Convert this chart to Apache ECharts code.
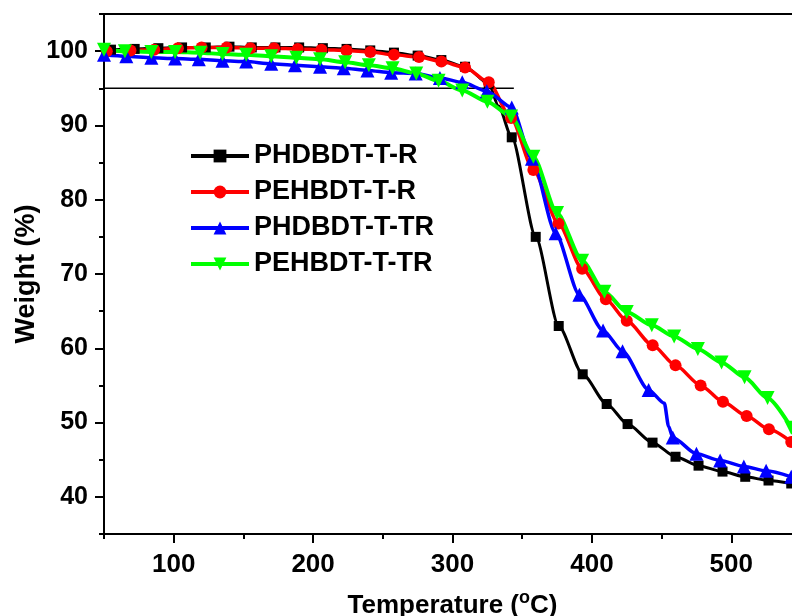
<!DOCTYPE html>
<html>
<head>
<meta charset="utf-8">
<script src="https://cdn.jsdelivr.net/npm/echarts@6/dist/echarts.min.js"></script>
<style>
  html, body { margin: 0; padding: 0; background: #fff; }
  #tga { width: 792px; height: 616px; }
</style>
</head>
<body>
<div id="tga"></div>
<script>
// TGA curves, temperature (oC) vs weight (%)
// a third value of 0 means: point on the line, no marker
var names = ['PHDBDT-T-R', 'PEHBDT-T-R', 'PHDBDT-T-TR', 'PEHBDT-T-TR'];

var phdbdtR = [
  [55,100.2],[72,100.3],[89,100.4],[106,100.5],[123,100.5],[140,100.6],[156,100.5],
  [173,100.5],[190,100.5],[207,100.4],[224,100.3],[241,100.1],[258,99.8],[275,99.4],
  [292,98.8],[309,97.9],[326,95.6],[333,92.6,0],[342.5,88.4],[359.7,75.0],[376.2,63.0],
  [393.4,56.5],[410.6,52.5],[425.6,49.8],[443.5,47.3],[460,45.4],[476.5,44.2],
  [493.7,43.4],[510,42.7],[526.7,42.2],[543,41.8]
];
var pehbdtR = [
  [52,100.0],[69,100.1],[86,100.2],[103,100.4],[120,100.5],[138,100.5],[155,100.4],
  [172,100.4],[189,100.3],[206,100.2],[224,100.1],[241,99.9],[258,99.5],[276,99.2],
  [292,98.6],[309,97.8],[326,95.8],[342,91.0],[358,84.0],[376,76.8],[393,70.7],
  [410,66.6],[425,63.7],[443.6,60.4],[460,57.7],[478,55.0],[494,52.8],[511,50.9],
  [527,49.1],[543,47.4]
];
var phdbdtTR = [
  [50,99.5],[66,99.3],[84,99.1],[101,99.0],[118,98.9],[135,98.7],[152,98.6],[170,98.3],
  [187,98.1],[205,97.9],[222,97.7],[239,97.4],[256,97.1],[273.6,97.0],[291,96.4],
  [307,95.8],[324.6,94.6],[342.5,92.4],[357,85.5],[374,75.5],[391,67.2],[408,62.4],
  [422,59.6],[440.7,54.4],[452,52.6,0],[455,49.5,0],[458,48.0],[475,45.8],[492,44.9],
  [509,44.1],[525,43.5],[543,42.7]
];
var pehbdtTR = [
  [50,100.2],[65,100.0],[84,99.9],[101,99.9],[119,99.8],[135,99.6],[152,99.5],[170,99.3],
  [188,99.1],[205,98.9],[223,98.5],[240,98.1],[257,97.7],[274,97.0],[290,96.0],
  [307,94.7],[325,93.2],[342,91.2],[358,85.8],[375,78.2],[393,71.8],[409,67.6],
  [425,64.9],[443,63.1],[459,61.6],[476,59.9],[493,58.1],[509.5,56.1],[526,53.3],
  [543,49.3]
];
var line95 = [[50,95],[344,95]];

var tempMajor = [100, 200, 300, 400, 500];
var weightMajor = [40, 50, 60, 70, 80, 90, 100];

function pts(arr) {
  return arr.map(function (d) {
    if (d[2] === 0) return { value: [d[0], d[1]], symbol: 'none' };
    return [d[0], d[1]];
  });
}

var font = 'Liberation Sans, Arial, sans-serif';

var chart = echarts.init(document.getElementById('tga'));

var option = {
  animation: false,
  grid: {
    left: 104, top: 14, width: 697, height: 520,
    outerBoundsMode: 'none', containLabel: false,
    show: true, borderColor: '#000', borderWidth: 2
  },
  legend: {
    data: names,
    orient: 'vertical',
    left: 189, top: 141, padding: 0,
    itemWidth: 58, itemHeight: 16, itemGap: 6,
    lineStyle: { width: 4 },
    textStyle: { fontSize: 27, fontWeight: 'bold', fontFamily: font, color: '#000', lineHeight: 30 }
  },
  xAxis: [{
    type: 'value', min: 50, max: 550, interval: 50,
    name: '{m|Temperature (}{s|o}{m|C)}',
    nameLocation: 'middle', nameGap: 55, nameMoveOverlap: false,
    nameTextStyle: {
      fontSize: 26, fontWeight: 'bold', fontFamily: font, color: '#000',
      rich: {
        m: { fontSize: 26, fontWeight: 'bold', fontFamily: font, color: '#000', lineHeight: 34 },
        s: { fontSize: 18, fontWeight: 'bold', fontFamily: font, color: '#000', lineHeight: 14, verticalAlign: 'top' }
      }
    },
    axisLine: { lineStyle: { color: '#000', width: 2 } },
    axisTick: { customValues: tempMajor, length: 9, lineStyle: { width: 2, color: '#000' } },
    axisLabel: { customValues: tempMajor, margin: 18, fontSize: 26, fontWeight: 'bold', fontFamily: font, color: '#000' },
    splitLine: { show: false }
  }, {
    type: 'value', min: 50, max: 550, interval: 50, position: 'bottom',
    axisLine: { show: false },
    axisTick: { length: 5, lineStyle: { width: 2, color: '#000' } },
    axisLabel: { show: false },
    splitLine: { show: false }
  }],
  yAxis: [{
    type: 'value', min: 35, max: 105, interval: 5,
    name: 'Weight (%)',
    nameLocation: 'middle', nameGap: 64, nameRotate: 90, nameMoveOverlap: false,
    nameTextStyle: { fontSize: 27, fontWeight: 'bold', fontFamily: font, color: '#000' },
    axisLine: { lineStyle: { color: '#000', width: 2 } },
    axisTick: { customValues: weightMajor, length: 9, lineStyle: { width: 2, color: '#000' } },
    axisLabel: { customValues: weightMajor, margin: 16, fontSize: 25, fontWeight: 'bold', fontFamily: font, color: '#000' },
    splitLine: { show: false }
  }, {
    type: 'value', min: 35, max: 105, interval: 5, position: 'left',
    axisLine: { show: false },
    axisTick: { length: 5, lineStyle: { width: 2, color: '#000' } },
    axisLabel: { show: false },
    splitLine: { show: false }
  }],
  series: [
    {
      name: '95', type: 'line', data: line95, symbol: 'none', silent: true,
      lineStyle: { color: '#000', width: 1.5 }, z: 1
    },
    {
      name: names[0], type: 'line', data: pts(phdbdtR),
      smooth: 0.25, smoothMonotone: 'x',
      symbol: 'rect', symbolSize: 10,
      itemStyle: { color: '#000000' }, lineStyle: { color: '#000000', width: 3 }
    },
    {
      name: names[1], type: 'line', data: pts(pehbdtR),
      smooth: 0.25, smoothMonotone: 'x',
      symbol: 'circle', symbolSize: 12,
      itemStyle: { color: '#ff0000' }, lineStyle: { color: '#ff0000', width: 3.5 }
    },
    {
      name: names[2], type: 'line', data: pts(phdbdtTR),
      smooth: 0.25, smoothMonotone: 'x',
      symbol: 'triangle', symbolSize: 14,
      itemStyle: { color: '#0000ff' }, lineStyle: { color: '#0000ff', width: 3.5 }
    },
    {
      name: names[3], type: 'line', data: pts(pehbdtTR),
      smooth: 0.25, smoothMonotone: 'x',
      symbol: 'triangle', symbolRotate: 180, symbolSize: 14,
      itemStyle: { color: '#00ff00' }, lineStyle: { color: '#00ff00', width: 4 }
    }
  ]
};

chart.setOption(option);
</script>
</body>
</html>
